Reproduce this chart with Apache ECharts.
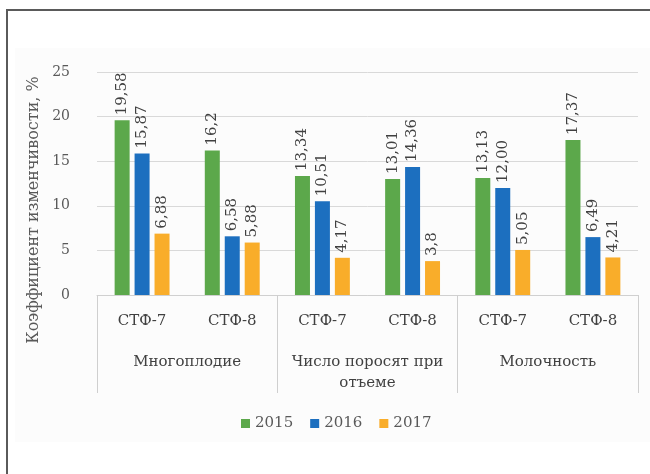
<!DOCTYPE html>
<html>
<head>
<meta charset="utf-8">
<script src="https://cdn.jsdelivr.net/npm/echarts@6/dist/echarts.min.js"></script>
<style>
  html, body { margin: 0; padding: 0; background: #ffffff; }
  #chart { width: 650px; height: 474px; }
</style>
</head>
<body>
<div id="chart"></div>
<script>
// Breed lines within each trait
const categories = ['СТФ-7', 'СТФ-8', 'СТФ-7', 'СТФ-8', 'СТФ-7', 'СТФ-8'];
// Traits (outer level of the category axis)
const groups = ['Многоплодие', 'Число поросят при\nотъеме', 'Молочность'];
const years = ['2015', '2016', '2017'];
// Coefficient of variation, % (as printed, decimal comma)
const labels2015 = ['19,58', '16,2', '13,34', '13,01', '13,13', '17,37'];
const labels2016 = ['15,87', '6,58', '10,51', '14,36', '12,00', '6,49'];
const labels2017 = ['6,88', '5,88', '4,17', '3,8', '5,05', '4,21'];
const yTicks = [0, 5, 10, 15, 20, 25];
const axisTitle = 'Коэффициент изменчивости, %';

const toNum = s => parseFloat(s.replace(',', '.'));
const colors = ['#5ca84b', '#1c6fbf', '#f9ad2a'];
const serif = 'DejaVu Serif';

function barSeries(name, labels, color) {
  return {
    name: name,
    type: 'bar',
    xAxisIndex: 0,
    barWidth: 15,
    barGap: '33%',
    itemStyle: { color: color },
    data: labels.map(toNum),
    label: {
      show: true,
      position: 'top',
      rotate: 90,
      align: 'left',
      verticalAlign: 'middle',
      distance: 5,
      fontFamily: serif,
      fontSize: 15,
      color: '#404040',
      formatter: p => labels[p.dataIndex]
    }
  };
}

const chart = echarts.init(document.getElementById('chart'), null, { renderer: 'canvas' });
chart.setOption({
  animation: false,
  backgroundColor: '#ffffff',
  textStyle: { fontFamily: serif },
  graphic: [
    { type: 'rect', z: -10, silent: true,
      shape: { x: 15, y: 48, width: 640, height: 394 },
      style: { fill: '#fcfcfc' } },
    { type: 'rect', z: 100, silent: true,
      shape: { x: 7, y: 10, width: 700, height: 600 },
      style: { fill: 'none', stroke: '#5a5a5a', lineWidth: 2 } },
    { type: 'text', silent: true,
      x: 34, y: 210, rotation: Math.PI / 2,
      style: { text: axisTitle, fontFamily: serif, fontSize: 16, fill: '#595959',
               align: 'center', verticalAlign: 'middle' } }
  ],
  grid: { left: 97, right: 12, top: 72, bottom: 179 },
  legend: {
    data: years,
    left: 236,
    top: 411,
    itemWidth: 9,
    itemHeight: 9,
    itemGap: 17,
    icon: 'rect',
    textStyle: { fontFamily: serif, fontSize: 15, color: '#595959' }
  },
  xAxis: [
    {
      type: 'category',
      data: categories,
      position: 'bottom',
      axisLine: { show: true, lineStyle: { color: '#d0d0d0', width: 1 } },
      axisTick: { show: false },
      axisLabel: { interval: 0, margin: 19, fontFamily: serif, fontSize: 15, color: '#404040' }
    },
    {
      type: 'category',
      data: groups,
      position: 'bottom',
      axisLine: { show: false },
      axisTick: { show: true, interval: 0, length: 98, inside: false,
                  lineStyle: { color: '#cfcfcf', width: 1 } },
      axisLabel: { interval: 0, hideOverlap: false, margin: 57, fontFamily: serif,
                   fontSize: 15, color: '#404040', lineHeight: 21 }
    }
  ],
  yAxis: {
    type: 'value',
    min: yTicks[0],
    max: yTicks[yTicks.length - 1],
    interval: yTicks[1] - yTicks[0],
    axisLine: { show: false },
    axisTick: { show: false },
    axisLabel: { margin: 27, fontFamily: serif, fontSize: 14, color: '#595959' },
    splitLine: { lineStyle: { color: '#d9d9d9', width: 1 } }
  },
  series: [
    barSeries(years[0], labels2015, colors[0]),
    barSeries(years[1], labels2016, colors[1]),
    barSeries(years[2], labels2017, colors[2])
  ]
});
</script>
</body>
</html>
